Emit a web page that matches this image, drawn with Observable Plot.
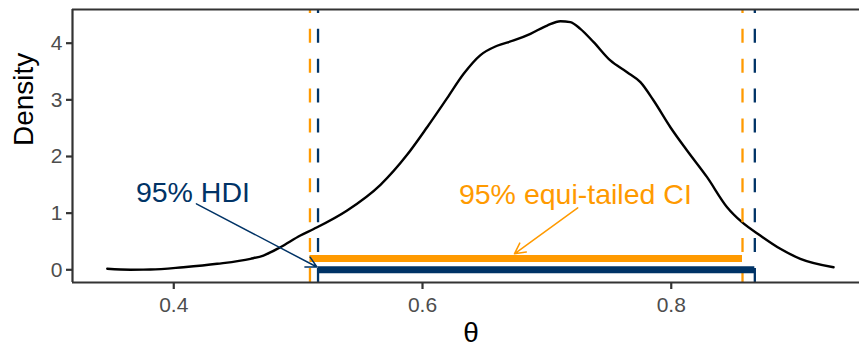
<!DOCTYPE html>
<html>
<head>
<meta charset="utf-8">
<script src="https://cdn.jsdelivr.net/npm/d3@7"></script>
<script src="https://cdn.jsdelivr.net/npm/@observablehq/plot@0.6"></script>
<style>
  html, body { margin: 0; padding: 0; background: #fff; }
</style>
</head>
<body>
<div id="chart"></div>
<script>
// Posterior density of theta (kernel density estimate)
const thetaGrid = [0.3465, 0.3652, 0.3813, 0.4078, 0.4349, 0.4617, 0.4721, 0.4857, 0.5018, 0.5125,
  0.5394, 0.5662, 0.5876, 0.6037, 0.6198, 0.6331, 0.6466, 0.6600, 0.6733, 0.6868,
  0.7002, 0.7109, 0.7189, 0.7269, 0.7376, 0.7510, 0.7645, 0.7752, 0.7858, 0.7993,
  0.8127, 0.8288, 0.8449, 0.8569, 0.8716, 0.8877, 0.9038, 0.9305];
const densityValues = [0.018, 0.002, 0.004, 0.046, 0.106, 0.194, 0.252, 0.399, 0.605, 0.720,
  1.047, 1.500, 2.030, 2.517, 3.030, 3.460, 3.790, 3.955, 4.048, 4.166,
  4.312, 4.388, 4.371, 4.254, 4.018, 3.695, 3.488, 3.312, 2.988, 2.517,
  2.106, 1.635, 1.105, 0.840, 0.605, 0.371, 0.194, 0.046];

// Credible intervals
const intervalNames = ["95% HDI", "95% equi-tailed CI"];
const intervalLower = [0.5160, 0.5095];
const intervalUpper = [0.8672, 0.8573];
const intervalBarY = [0, 0.2];

// Labels and their arrows (data coordinates)
const labelX = [0.4154, 0.7229];
const labelY = [1.193, 1.165];
const arrowFromX = [0.4182, 0.7248];
const arrowFromY = [1.165, 1.094];
const arrowToX = [0.5151, 0.6739];
const arrowToY = [0.049, 0.282];

// Axis ticks
const xTicks = [0.4, 0.6, 0.8];
const xTickLabels = ["0.4", "0.6", "0.8"];
const yTicks = [0, 1, 2, 3, 4];
const yTickLabels = ["0", "1", "2", "3", "4"];

const xDomain = [0.31857, 0.95137];
const yDomain = [-0.2242, 4.5949];

const palette = {"95% HDI": "#003366", "95% equi-tailed CI": "#ff9a00"};

const densityData = thetaGrid.map((t, i) => ({theta: t, density: densityValues[i]}));
const intervals = intervalNames.map((name, i) => ({
  name, lower: intervalLower[i], upper: intervalUpper[i], barY: intervalBarY[i],
  lx: labelX[i], ly: labelY[i],
  ax1: arrowFromX[i], ay1: arrowFromY[i], ax2: arrowToX[i], ay2: arrowToY[i]
}));
const bounds = intervals.flatMap(d => [
  {name: d.name, x: d.lower}, {name: d.name, x: d.upper}
]);

const font = "'Liberation Sans', Arial, Helvetica, sans-serif";

const chart = Plot.plot({
  width: 859,
  height: 347,
  marginTop: 9,
  marginRight: 0,
  marginBottom: 65,
  marginLeft: 72,
  style: {fontFamily: font, background: "#fff", overflow: "visible"},
  x: {domain: xDomain},
  y: {domain: yDomain},
  marks: [
    // density curve
    Plot.line(densityData, {x: "theta", y: "density", stroke: "#000", strokeWidth: 2.4, curve: "monotone-x"}),
    // interval bounds as dashed verticals
    Plot.ruleX(bounds, {
      x: "x", y1: () => yDomain[0], y2: () => yDomain[1],
      stroke: d => palette[d.name], strokeWidth: 2.3, strokeDasharray: "14,15.9"
    }),
    // interval bars
    Plot.ruleY(intervals, {
      y: "barY", x1: "lower", x2: "upper",
      stroke: d => palette[d.name], strokeWidth: 7, strokeLinecap: "butt"
    }),
    // arrows pointing from labels to bars
    Plot.arrow(intervals, {
      x1: "ax1", y1: "ay1", x2: "ax2", y2: "ay2",
      stroke: d => palette[d.name], strokeWidth: 1.5, headLength: 12, headAngle: 55
    }),
    Plot.text(intervals, {
      x: "lx", y: "ly", text: "name", fill: d => palette[d.name],
      fontSize: 28.5, textAnchor: "middle", lineAnchor: "bottom"
    }),
    // panel lines: left, bottom, top
    Plot.ruleX([xDomain[0]], {stroke: "#333", strokeWidth: 2.2}),
    Plot.ruleY([yDomain[0], yDomain[1]], {stroke: "#333", strokeWidth: 2.2}),
    // axes
    Plot.axisX(xTicks, {
      tickFormat: (d, i) => xTickLabels[i], tickSize: 7, tickPadding: 8,
      fontSize: 21, stroke: "#333", fill: "#4d4d4d", strokeWidth: 2.2, label: null
    }),
    Plot.axisY(yTicks, {
      tickFormat: (d, i) => yTickLabels[i], tickSize: 6, tickPadding: 4,
      fontSize: 21, stroke: "#333", fill: "#4d4d4d", strokeWidth: 2.2, label: null
    }),
    // axis titles
    Plot.text(["θ"], {frameAnchor: "bottom", dx: 5, dy: 59, lineAnchor: "bottom", fontSize: 28, fill: "#000"}),
    Plot.text(["Density"], {frameAnchor: "left", dx: -48, rotate: -90, lineAnchor: "middle", fontSize: 28, fill: "#000"})
  ]
});

document.getElementById("chart").appendChild(chart);
</script>
</body>
</html>
